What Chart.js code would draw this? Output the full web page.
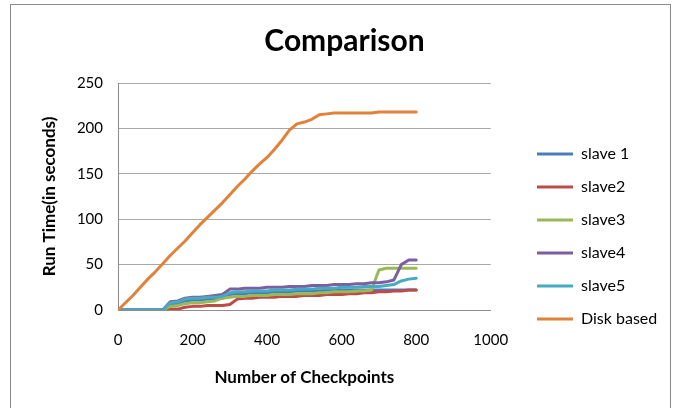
<!DOCTYPE html>
<html><head><meta charset="utf-8">
<script src="https://cdn.jsdelivr.net/npm/chart.js@4"></script>
<style>
html,body{margin:0;padding:0;background:#fff;}
#wrap{position:relative;width:681px;height:408px;overflow:hidden;}
#frame{position:absolute;left:10px;top:4px;width:659px;height:430px;border:1.5px solid #8c8c8c;}
canvas{position:absolute;left:0;top:0;}
</style></head><body>
<div id="wrap"><div id="frame"></div><canvas id="c" width="681" height="408"></canvas></div>
<script>
const checkpoints = [0,20,40,60,80,100,120,140,160,180,200,220,240,260,280,300,320,340,360,380,400,420,440,460,480,500,520,540,560,580,600,620,640,660,680,700,720,740,760,780,800];
const slave1 = [0,0,0,0,0,0,0,6,7,10,11,11,12,12,13,17,18,18,19,19,19,20,20,20,21,21,21,21,22,22,22,22,22,22,22,22,22,22,22,22,22];
const slave2 = [0,0,0,0,0,0,0,1,1,3,4,4,5,5,5,6,12,13,13,14,14,14,15,15,15,16,16,16,17,17,17,18,18,19,19,20,20,21,21,22,22];
const slave3 = [0,0,0,0,0,0,0,4,5,7,8,8,9,10,13,14,15,15,16,16,16,17,17,17,18,18,18,19,19,20,20,20,21,21,22,44,46,46,46,46,46];
const slave4 = [0,0,0,0,0,0,0,9,10,13,14,14,15,16,17,23,23,24,24,24,25,25,25,26,26,26,27,27,27,28,28,28,29,29,30,30,31,33,50,55,55];
const slave5 = [0,0,0,0,0,0,0,8,9,12,13,13,14,14,15,19,20,20,21,21,21,22,22,22,23,23,23,24,24,24,25,25,25,26,26,26,27,28,32,34,35];
const diskBased = [0,8,16,25,34,42,51,60,68,76,85,94,102,110,118,127,136,144,153,161,168,177,187,198,205,207,210,215,216,217,217,217,217,217,217,218,218,218,218,218,218];
const seriesNames = ['slave 1','slave2','slave3','slave4','slave5','Disk based'];
const xTicks = [0,200,400,600,800,1000];
const yTicks = [0,50,100,150,200,250];

const seriesValues = [slave1, slave2, slave3, slave4, slave5, diskBased];
const colors = ['#4A7EBB','#BE4B48','#98B954','#7D5FA0','#46AAC5','#E2813A'];
const FONT = 'Lato';

const datasets = seriesValues.map((vals, k) => ({
  label: seriesNames[k],
  data: checkpoints.map((x, i) => ({x: x, y: vals[i]})),
  borderColor: colors[k],
  backgroundColor: colors[k],
  borderWidth: 3,
  pointRadius: 0,
  tension: 0,
  borderJoinStyle: 'round',
  borderCapStyle: 'round',
  order: seriesValues.length - k
}));

// place legend and title blocks after layout
const placeBlocks = {
  id: 'placeBlocks',
  afterLayout(chart) {
    const lg = chart.legend;
    if (lg) { const dx = 537 - 17 - lg.left; lg.left += dx; lg.right += dx; }
    const tb = chart.titleBlock;
    if (tb) { tb.left = 10; tb.right = 679; }
  }
};

new Chart(document.getElementById('c'), {
  type: 'line',
  data: { datasets },
  plugins: [placeBlocks],
  options: {
    responsive: false,
    animation: false,
    devicePixelRatio: 1,
    layout: { padding: { left: 0, right: 43, top: 0, bottom: 0 } },
    plugins: {
      tooltip: { enabled: false },
      title: {
        display: true, text: 'Comparison', color: '#000',
        font: { family: FONT, size: 30, weight: 'bold' },
        padding: { top: 23, bottom: 24 }
      },
      legend: {
        position: 'right', align: 'start',
        title: { display: true, text: ' ', font: { family: FONT, size: 10 }, padding: { top: 117, bottom: 0 } },
        labels: {
          boxWidth: 36, boxHeight: 3, padding: 17, color: '#000',
          font: { family: FONT, size: 16 },
          sort: (a, b) => a.datasetIndex - b.datasetIndex,
          generateLabels(chart) {
            const items = Chart.defaults.plugins.legend.labels.generateLabels(chart);
            items.forEach(it => { it.fillStyle = it.strokeStyle; it.lineWidth = 0; });
            return items;
          }
        }
      }
    },
    scales: {
      x: {
        type: 'linear', min: 0, max: 1000,
        afterBuildTicks(s) { s.ticks = xTicks.map(v => ({ value: v })); },
        ticks: { color: '#000', padding: 21, font: { family: FONT, size: 15 }, callback: v => String(v) },
        grid: { display: false, drawTicks: false },
        border: { display: true, color: '#8c8c8c', width: 1 },
        title: { display: true, text: 'Number of Checkpoints', color: '#000',
          font: { family: FONT, size: 17, weight: 'bold' }, padding: { top: 0, bottom: 20 } },
        afterFit(s) { s.height = 98; }
      },
      y: {
        min: 0, max: 250,
        afterBuildTicks(s) { s.ticks = yTicks.map(v => ({ value: v })); },
        ticks: { color: '#000', padding: 15, font: { family: FONT, size: 15 }, callback: v => String(v) },
        grid: { color: '#a8a8a8', lineWidth: 1, drawTicks: false },
        border: { display: true, color: '#8c8c8c', width: 1 },
        title: { display: true, text: 'Run Time(in seconds)', color: '#000',
          font: { family: FONT, size: 17, weight: 'bold' }, padding: { top: 39, bottom: 0 } },
        afterFit(s) { s.width = 118; }
      }
    }
  }
});
</script>
</body></html>
